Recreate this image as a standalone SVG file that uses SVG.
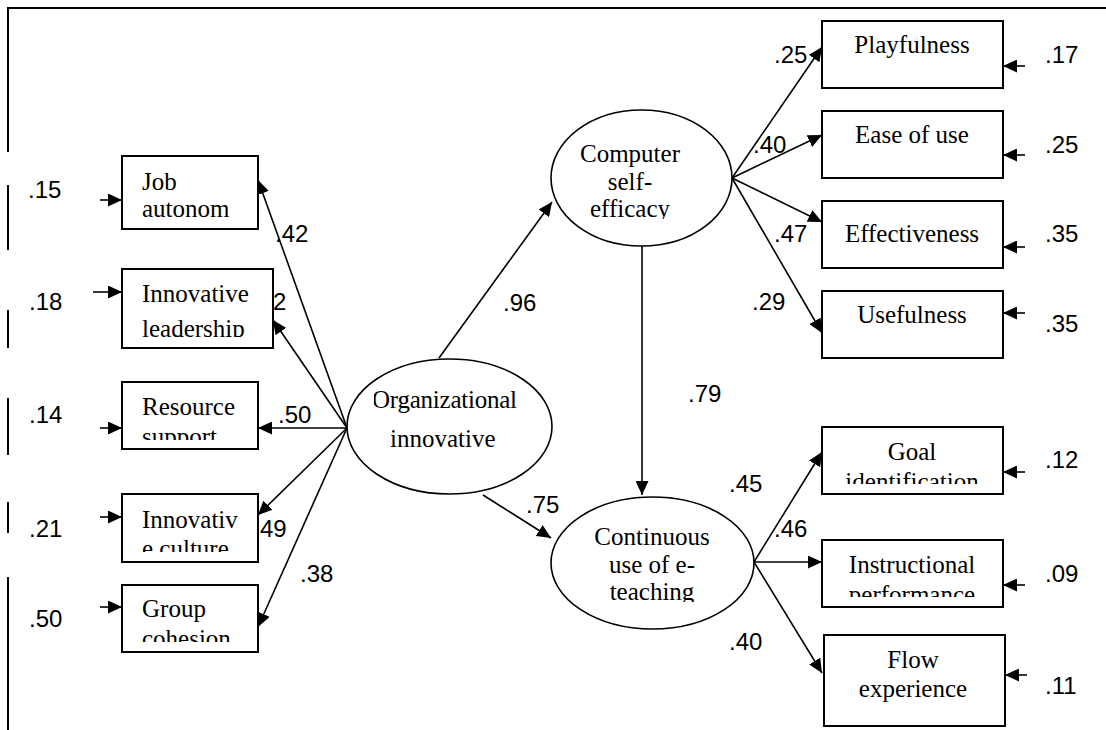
<svg xmlns="http://www.w3.org/2000/svg" width="1106" height="730" viewBox="0 0 1106 730">
<style>
.box{fill:#fff;stroke:#000;stroke-width:2}
.ell{fill:#fff;stroke:#000;stroke-width:1.6}
.t{font-family:"Liberation Serif","Times New Roman",serif;font-size:25px;fill:#000}
.c{text-anchor:middle}
.n{font-family:"Liberation Sans",Arial,sans-serif;font-size:24px;fill:#000}
.ln{stroke:#000;stroke-width:1.6;fill:none;marker-end:url(#ah)}
.fr{stroke:#000;stroke-width:2;fill:none}
</style>
<defs>
<marker id="ah" markerUnits="userSpaceOnUse" markerWidth="15" markerHeight="13" refX="14" refY="6.5" orient="auto">
<path d="M0,0 L14,6.5 L0,13 z" fill="#000"/>
</marker>
<clipPath id="cLead"><rect x="122" y="269" width="151" height="68"/></clipPath>
<clipPath id="cRes"><rect x="122" y="382" width="136" height="58"/></clipPath>
<clipPath id="cCul"><rect x="122" y="494" width="136" height="58"/></clipPath>
<clipPath id="cGrp"><rect x="122" y="585" width="136" height="57"/></clipPath>
<clipPath id="cGoal"><rect x="822" y="427" width="181" height="57"/></clipPath>
<clipPath id="cIns"><rect x="822" y="540" width="181" height="57"/></clipPath>
<clipPath id="cEff"><rect x="551" y="110" width="181" height="109"/></clipPath>
<clipPath id="cCon"><rect x="551" y="497" width="203" height="105"/></clipPath>
<clipPath id="cOrg"><rect x="374" y="359" width="178" height="135"/></clipPath>
</defs>
<rect width="1106" height="730" fill="#fff"/>
<g id="frame">
<line class="fr" x1="8" y1="8" x2="1106" y2="8"/>
<line class="fr" x1="8" y1="7" x2="8" y2="152"/>
<line class="fr" x1="8" y1="185" x2="8" y2="250"/>
<line class="fr" x1="8" y1="310" x2="8" y2="348"/>
<line class="fr" x1="8" y1="398" x2="8" y2="455"/>
<line class="fr" x1="8" y1="502" x2="8" y2="533"/>
<line class="fr" x1="8" y1="577" x2="8" y2="730"/>
</g>
<g id="connectors">
<line class="ln" x1="347" y1="428" x2="258" y2="180"/>
<line class="ln" x1="347" y1="428" x2="273" y2="320"/>
<line class="ln" x1="347" y1="428" x2="258" y2="428"/>
<line class="ln" x1="347" y1="428" x2="258" y2="515"/>
<line class="ln" x1="347" y1="428" x2="258" y2="627"/>
<line class="ln" x1="439" y1="358" x2="552" y2="202"/>
<line class="ln" x1="642" y1="246" x2="642" y2="495"/>
<line class="ln" x1="483" y1="495" x2="551" y2="538"/>
<line class="ln" x1="732" y1="178" x2="822" y2="47"/>
<line class="ln" x1="732" y1="178" x2="822" y2="135"/>
<line class="ln" x1="732" y1="178" x2="822" y2="222"/>
<line class="ln" x1="732" y1="178" x2="822" y2="333"/>
<line class="ln" x1="754" y1="562" x2="822" y2="452"/>
<line class="ln" x1="754" y1="562" x2="822" y2="562"/>
<line class="ln" x1="754" y1="562" x2="822" y2="673"/>
<line class="ln" x1="100" y1="200" x2="122" y2="200"/>
<line class="ln" x1="93" y1="292" x2="122" y2="292"/>
<line class="ln" x1="100" y1="428" x2="122" y2="428"/>
<line class="ln" x1="100" y1="517" x2="122" y2="517"/>
<line class="ln" x1="100" y1="607" x2="122" y2="607"/>
<line class="ln" x1="1025" y1="66" x2="1003" y2="66"/>
<line class="ln" x1="1025" y1="155" x2="1003" y2="155"/>
<line class="ln" x1="1025" y1="247" x2="1003" y2="247"/>
<line class="ln" x1="1025" y1="313" x2="1003" y2="313"/>
<line class="ln" x1="1025" y1="472" x2="1003" y2="472"/>
<line class="ln" x1="1025" y1="585" x2="1003" y2="585"/>
<line class="ln" x1="1027" y1="675" x2="1005" y2="675"/>
</g>
<g id="labels">
<text class="n" x="28" y="198">.15</text>
<text class="n" x="29" y="310">.18</text>
<text class="n" x="29" y="423">.14</text>
<text class="n" x="29" y="537">.21</text>
<text class="n" x="29" y="627">.50</text>
<text class="n" x="275" y="242">.42</text>
<text class="n" x="273" y="310">2</text>
<text class="n" x="278" y="423">.50</text>
<text class="n" x="260" y="537">49</text>
<text class="n" x="300" y="582">.38</text>
<text class="n" x="503" y="311">.96</text>
<text class="n" x="688" y="402">.79</text>
<text class="n" x="526" y="513">.75</text>
<text class="n" x="774" y="63">.25</text>
<text class="n" x="753" y="153">.40</text>
<text class="n" x="774" y="242">.47</text>
<text class="n" x="752" y="310">.29</text>
<text class="n" x="729" y="492">.45</text>
<text class="n" x="774" y="537">.46</text>
<text class="n" x="729" y="650">.40</text>
<text class="n" x="1045" y="63">.17</text>
<text class="n" x="1045" y="153">.25</text>
<text class="n" x="1045" y="242">.35</text>
<text class="n" x="1045" y="332">.35</text>
<text class="n" x="1045" y="468">.12</text>
<text class="n" x="1045" y="582">.09</text>
<text class="n" x="1045" y="694">.11</text>
</g>
<g id="job-autonomy">
<rect class="box" x="122" y="156" width="136" height="73"/>
<text class="t" x="142" y="190">Job</text>
<text class="t" x="142" y="217">autonom</text>
</g>
<g id="innovative-leadership">
<rect class="box" x="122" y="269" width="151" height="79"/>
<g clip-path="url(#cLead)">
<text class="t" x="142" y="302">Innovative</text>
<text class="t" x="142" y="337">leadership</text>
</g>
</g>
<g id="resource-support">
<rect class="box" x="122" y="382" width="136" height="67"/>
<g clip-path="url(#cRes)">
<text class="t" x="142" y="415">Resource</text>
<text class="t" x="142" y="445">support</text>
</g>
</g>
<g id="innovative-culture">
<rect class="box" x="122" y="494" width="136" height="68"/>
<g clip-path="url(#cCul)">
<text class="t" x="142" y="528">Innovativ</text>
<text class="t" x="142" y="557">e culture</text>
</g>
</g>
<g id="group-cohesion">
<rect class="box" x="122" y="585" width="136" height="67"/>
<g clip-path="url(#cGrp)">
<text class="t" x="142" y="617">Group</text>
<text class="t" x="142" y="647">cohesion</text>
</g>
</g>
<g id="organizational-innovative">
<ellipse class="ell" cx="449.5" cy="426.5" rx="102.5" ry="67.5"/>
<g clip-path="url(#cOrg)">
<text class="t" x="372" y="408" textLength="145">Organizational</text>
</g>
<text class="t" x="390" y="447">innovative</text>
</g>
<g id="computer-self-efficacy">
<ellipse class="ell" cx="641.5" cy="178" rx="90.5" ry="68"/>
<g clip-path="url(#cEff)">
<text class="t c" x="630" y="162">Computer</text>
<text class="t c" x="630" y="190">self-</text>
<text class="t c" x="630" y="217">efficacy</text>
</g>
</g>
<g id="continuous-use">
<ellipse class="ell" cx="652.5" cy="563" rx="101.5" ry="66"/>
<g clip-path="url(#cCon)">
<text class="t c" x="652" y="545">Continuous</text>
<text class="t c" x="652" y="573">use of e-</text>
<text class="t c" x="652" y="600">teaching</text>
</g>
</g>
<g id="playfulness">
<rect class="box" x="822" y="21" width="181" height="67"/>
<text class="t c" x="912" y="53">Playfulness</text>
</g>
<g id="ease-of-use">
<rect class="box" x="822" y="111" width="181" height="67"/>
<text class="t c" x="912" y="143">Ease of use</text>
</g>
<g id="effectiveness">
<rect class="box" x="822" y="201" width="181" height="67"/>
<text class="t c" x="912" y="242">Effectiveness</text>
</g>
<g id="usefulness">
<rect class="box" x="822" y="291" width="181" height="67"/>
<text class="t c" x="912" y="323">Usefulness</text>
</g>
<g id="goal-identification">
<rect class="box" x="822" y="427" width="181" height="67"/>
<g clip-path="url(#cGoal)">
<text class="t c" x="912" y="460">Goal</text>
<text class="t c" x="912" y="490">identification</text>
</g>
</g>
<g id="instructional-performance">
<rect class="box" x="822" y="540" width="181" height="67"/>
<g clip-path="url(#cIns)">
<text class="t c" x="912" y="573">Instructional</text>
<text class="t c" x="912" y="603">performance</text>
</g>
</g>
<g id="flow-experience">
<rect class="box" x="824" y="635" width="181" height="91"/>
<text class="t c" x="913" y="668">Flow</text>
<text class="t c" x="913" y="697">experience</text>
</g>
</svg>
